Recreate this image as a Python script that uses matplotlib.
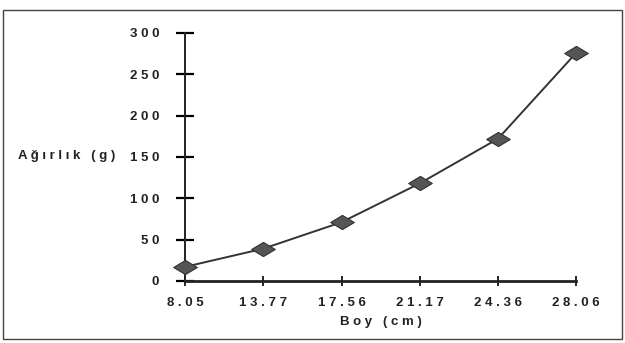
import matplotlib.pyplot as plt
from matplotlib.path import Path
from matplotlib.patches import Rectangle

# Length (cm) vs weight (g)
boy = ["8.05", "13.77", "17.56", "21.17", "24.36", "28.06"]
agirlik = [17, 39, 71, 118, 172, 276]
y_ticks = [0, 50, 100, 150, 200, 250, 300]


def spaced(s):
    return " ".join(s)


# wide diamond marker like the original
diamond = Path([(-1, 0), (0, 0.6), (1, 0), (0, -0.6), (-1, 0)],
               [Path.MOVETO, Path.LINETO, Path.LINETO, Path.LINETO, Path.CLOSEPOLY])

plt.rcParams['font.family'] = 'Liberation Sans'

fig = plt.figure(figsize=(6.25, 3.43), dpi=100)
ax = fig.add_axes([0.296, 0.181, 0.626, 0.723])

x = list(range(len(boy)))
ax.plot(x, agirlik, color='#333333', linewidth=1.4, marker=diamond,
        markersize=17, markerfacecolor='#555555', markeredgecolor='#333333',
        markeredgewidth=0.8, clip_on=False, zorder=3)

ax.set_xlim(0, 5)
ax.set_ylim(0, 300)
ax.set_xticks(x)
ax.set_xticklabels([spaced(b) for b in boy], fontsize=9.5, fontweight='bold', color='#222222')
ax.set_yticks(y_ticks)
ax.set_yticklabels([spaced(str(v)) for v in y_ticks], fontsize=9.5, fontweight='bold', color='#222222')

for side in ['top', 'right']:
    ax.spines[side].set_visible(False)
ax.spines['left'].set_linewidth(1.4)
ax.spines['bottom'].set_linewidth(2.0)
ax.spines['left'].set_color('#222222')
ax.spines['bottom'].set_color('#222222')

ax.tick_params(axis='y', direction='inout', length=13, width=1.6, pad=12)
ax.tick_params(axis='x', direction='inout', length=7, width=1.2, pad=8)

ax.set_xlabel(spaced("Boy (cm)"), fontsize=9.5, fontweight='bold', color='#222222', labelpad=5)
fig.text(0.029, 0.545, spaced("Ağırlık (g)"), fontsize=9.5, fontweight='bold',
         color='#222222', va='center', ha='left')

# frame around the whole chart
fig.patches.append(Rectangle((0.005, 0.012), 0.99, 0.958, transform=fig.transFigure,
                             fill=False, edgecolor='#444444', linewidth=1.0))

fig.savefig("out.png", dpi=100)
